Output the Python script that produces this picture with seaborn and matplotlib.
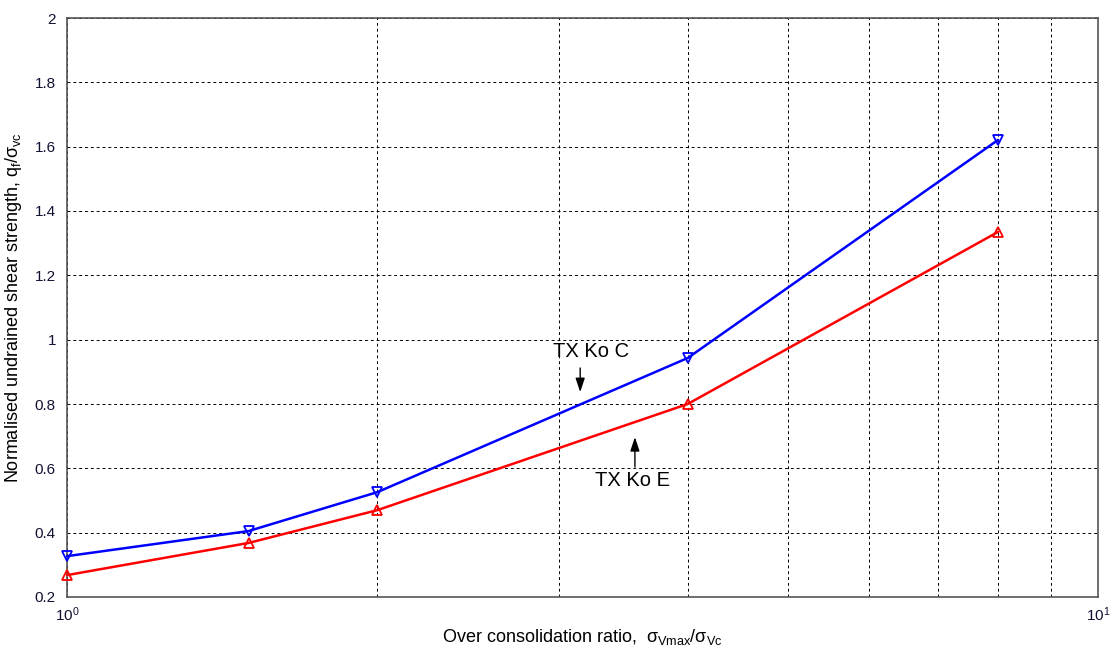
import numpy as np
import pandas as pd
import matplotlib
matplotlib.use("Agg")
import matplotlib.pyplot as plt
import seaborn as sns
from matplotlib.ticker import NullFormatter, FixedLocator

ocr = [1, 1.5, 2, 4, 8]
tx_ko_c = [0.327, 0.405, 0.526, 0.943, 1.621]
tx_ko_e = [0.268, 0.368, 0.470, 0.800, 1.335]

sns.set_style("white")
plt.rcParams['font.family'] = ['Liberation Sans', 'DejaVu Sans']
plt.rcParams['mathtext.fontset'] = 'custom'
plt.rcParams['mathtext.rm'] = 'Liberation Sans'
plt.rcParams['mathtext.it'] = 'Liberation Sans'
plt.rcParams['text.color'] = 'black'
plt.rcParams['axes.labelcolor'] = 'black'

fig = plt.figure(figsize=(11.1, 6.6), dpi=100)
ax = fig.add_axes([67/1110, 1-597/660, (1098-67)/1110, (597-18)/660])

df_c = pd.DataFrame({"x": ocr, "y": tx_ko_c})
df_e = pd.DataFrame({"x": ocr, "y": tx_ko_e})
sns.lineplot(data=df_c, x="x", y="y", ax=ax, color="blue", lw=1.8, marker="v",
             markersize=7.5, markerfacecolor="none", markeredgecolor="blue", markeredgewidth=1.3,
             clip_on=False, zorder=5)
sns.lineplot(data=df_e, x="x", y="y", ax=ax, color="red", lw=1.8, marker="^",
             markersize=7.5, markerfacecolor="none", markeredgecolor="red", markeredgewidth=1.3,
             clip_on=False, zorder=5)

ax.set_xscale("log")
ax.set_xlim(1, 10)
ax.set_ylim(0.2, 2)
ax.set_xticks([1, 10])
ax.set_xticklabels([r"$10^0$", r"$10^1$"])
ax.xaxis.set_minor_locator(FixedLocator([2, 3, 4, 5, 6, 7, 8, 9]))
ax.xaxis.set_minor_formatter(NullFormatter())
ax.set_yticks(np.arange(0.2, 2.01, 0.2))
ax.set_yticklabels(["0.2", "0.4", "0.6", "0.8", "1", "1.2", "1.4", "1.6", "1.8", "2"])

ax.grid(True, which="both", axis="both", color="black", linestyle=(0, (3, 3)), lw=0.7)
for s in ax.spines.values():
    s.set_color("#555555")
    s.set_linewidth(1.2)
ax.tick_params(axis="both", which="both", direction="in", labelsize=11, colors="#555555",
               labelcolor="#111133")
ax.tick_params(axis="x", pad=6)
ax.tick_params(axis="y", pad=8)

ax.set_xlabel(r"Over consolidation ratio,  $\sigma_{Vmax}/\sigma_{Vc}$", fontsize=13, labelpad=2)
ax.set_ylabel(r"Normalised undrained shear strength, $q_f/\sigma_{vc}$", fontsize=13, labelpad=8)

ax.text(3.224, 0.962, "TX Ko C", fontsize=14.5, ha="center", va="center")
ax.annotate("", xy=(3.146, 0.837), xytext=(3.146, 0.912),
            arrowprops=dict(arrowstyle="-|>,head_length=0.6,head_width=0.2", color="black",
                            lw=1, mutation_scale=14, shrinkA=0, shrinkB=0))
ax.text(3.532, 0.561, "TX Ko E", fontsize=14.5, ha="center", va="center")
ax.annotate("", xy=(3.555, 0.697), xytext=(3.555, 0.604),
            arrowprops=dict(arrowstyle="-|>,head_length=0.6,head_width=0.2", color="black",
                            lw=1, mutation_scale=14, shrinkA=0, shrinkB=0))

fig.savefig("out.png", dpi=100, facecolor="white")
